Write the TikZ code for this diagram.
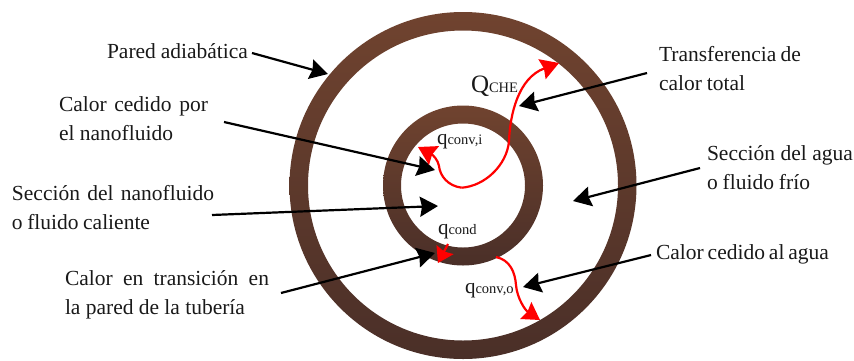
\documentclass[tikz,border=0pt]{standalone}
\usepackage{fontspec}
\setmainfont{Liberation Serif}
\usetikzlibrary{arrows.meta,calc}
\newcommand{\fitline}[2]{\makebox[#1pt][s]{#2}}
\newcommand{\qlab}[2]{{\fontsize{#1}{#1}\selectfont#2}}
\tikzset{
  lbl/.style={inner sep=0pt,outer sep=0pt,anchor=west,align=left,font=\fontsize{21.5}{29}\selectfont,text=black!90},
  qlbl/.style={inner sep=0pt,outer sep=0pt,anchor=base west,text=black!90},
  callout/.style={draw=black,line width=2.2pt,-{Stealth[length=18pt,width=20pt,inset=2pt]}},
  heat/.style={draw=red,line width=2.2pt,-{Stealth[length=18pt,width=21pt,inset=2pt]}},
  ring/.style={even odd rule,top color=ringtop,middle color=ringmid,bottom color=ringbot,draw=none}
}
\definecolor{ringtop}{HTML}{70432F}
\definecolor{ringmid}{HTML}{67402F}
\definecolor{ringbot}{HTML}{4A2F28}
\begin{document}
\begin{tikzpicture}[x=1pt,y=-1pt]
\useasboundingbox (0,0) rectangle (854,360);
% rings
\coordinate (c) at (463,185.5);
\shade[ring] (c) circle[radius=173.5pt] (c) circle[radius=155pt];
\shade[ring] (c) circle[radius=80pt] (c) circle[radius=62pt];
% labels
\node[lbl] (pared) at (107,51) {\fitline{141}{Pared adiabática}};
\node[lbl] (cedido) at (59,119) {\fitline{149}{Calor cedido por}\\\fitline{114}{el nanofluido}};
\node[lbl] (nano) at (12,208) {\fitline{202}{Sección del nanofluido}\\\fitline{138}{o fluido caliente}};
\node[lbl] (trans) at (65,295) {\fitline{204}{Calor en transición en}\\\fitline{180}{la pared de la tubería}};
\node[lbl] (total) at (659,69) {\fitline{142}{Transferencia de}\\\fitline{86}{calor total}};
\node[lbl] (agua) at (707,168) {\fitline{146}{Sección del agua}\\\fitline{103}{o fluido frío}};
\node[lbl] (alagua) at (656,254) {\fitline{173}{Calor cedido al agua}};
% heat labels
\node[qlbl] (qche) at (471,92) {\qlab{25}{Q}\qlab{14.5}{CHE}};
\node[qlbl] (qi) at (437,144) {\qlab{21}{q}\qlab{14.5}{conv,i}};
\node[qlbl] (qc) at (438,234) {\qlab{21}{q}\qlab{14.5}{cond}};
\node[qlbl] (qo) at (465,293) {\qlab{21}{q}\qlab{14.5}{conv,o}};
% callouts
\coordinate (tpared) at (328,74);
\coordinate (tcedido) at (435,170);
\coordinate (tnano) at (438,206);
\coordinate (ttrans) at (435,253);
\coordinate (ttotal) at (519,106);
\coordinate (tagua) at (573,201);
\coordinate (talagua) at (523,287);
\draw[callout] ([shift={(4,2)}]pared.east) -- (tpared);
\draw[callout] ([shift={(16,3)}]cedido.east) -- (tcedido);
\draw[callout] ([shift={(-2,7)}]nano.east) -- (tnano);
\draw[callout] ([shift={(12,-2)}]trans.east) -- (ttrans);
\draw[callout] ([shift={(-12,4)}]total.west) -- (ttotal);
\draw[callout] ([shift={(-7,0)}]agua.west) -- (tagua);
\draw[callout] ([shift={(-5,1)}]alagua.west) -- (talagua);
% heat flows
\coordinate (o) at (461.7,187.7);
\coordinate (tche) at (559,63);
\coordinate (ti) at (418,147);
\coordinate (qcs) at (448,244);
\coordinate (tc) at (438,263);
\coordinate (qos) at (496,257);
\coordinate (to) at (540,320);
\draw[heat] (o) .. controls (485,186) and (507,165) .. (509,141)
  .. controls (510,115) and (518,78) .. (tche);
\draw[heat] (o) .. controls (448,186) and (440,176) .. (439,166)
  .. controls (438,160) and (433,155) .. (ti);
\draw[heat,-{Stealth[length=15pt,width=19pt,inset=2pt]}] (qcs) -- (tc);
\draw[heat,-{Stealth[length=17pt,width=20pt,inset=2pt]}] (qos) .. controls (510,260) and (515,272) .. (516,285)
  .. controls (517,298) and (525,310) .. (to);
\end{tikzpicture}
\end{document}
